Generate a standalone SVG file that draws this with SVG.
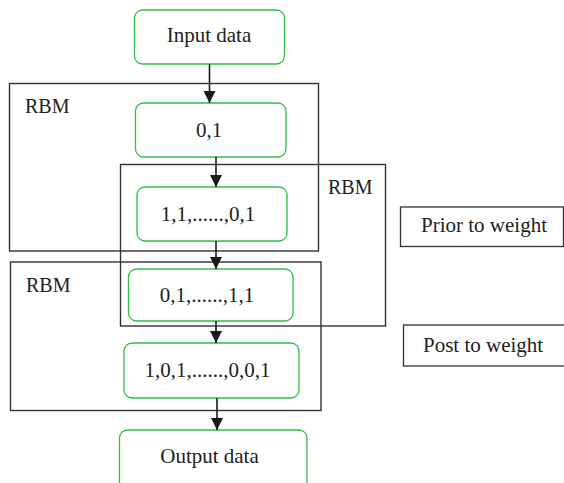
<svg xmlns="http://www.w3.org/2000/svg" width="564" height="483" viewBox="0 0 564 483">
<style>
.node{fill:#fff;stroke:#2fbf44;stroke-width:1.3}
.frame{fill:none;stroke:#333;stroke-width:1.4}
.box{fill:#fff;stroke:#333;stroke-width:1.3}
text{font-family:"Liberation Serif","Times New Roman",serif;font-size:21px;fill:#222}
.r{font-size:20px}
.c{text-anchor:middle}
.conn{stroke:#1a1a1a;stroke-width:1.6;fill:none}
</style>
<defs>
<marker id="ah" markerUnits="userSpaceOnUse" markerWidth="12" markerHeight="14" refX="12" refY="6" orient="auto">
<path d="M0,0 L12,6 L0,12 Z" fill="#1a1a1a"/>
</marker>
</defs>
<rect width="564" height="483" fill="#fff"/>
<g id="rbm1"><rect class="frame" x="9.5" y="83.5" width="309" height="167.5"/><text class="r" x="25" y="113">RBM</text></g>
<g id="rbm2"><rect class="frame" x="120.5" y="164.5" width="265" height="161.5"/><text class="r" x="328" y="194">RBM</text></g>
<g id="rbm3"><rect class="frame" x="10.5" y="262" width="310.5" height="148.5"/><text class="r" x="26" y="292">RBM</text></g>
<g id="input"><rect class="node" x="134.5" y="10" width="150" height="54" rx="8"/><text class="c" x="209" y="42">Input data</text></g>
<g id="n1"><rect class="node" x="135.5" y="103" width="150.5" height="54" rx="8"/><text class="c" x="209" y="137">0,1</text></g>
<g id="n2"><rect class="node" x="137" y="187" width="150" height="54" rx="8"/><text class="c" x="208" y="221">1,1,......,0,1</text></g>
<g id="n3"><rect class="node" x="128.5" y="269" width="164.5" height="52" rx="8"/><text class="c" x="207" y="302">0,1,......,1,1</text></g>
<g id="n4"><rect class="node" x="124" y="343" width="175" height="55" rx="8"/><text class="c" x="207.5" y="377">1,0,1,......,0,0,1</text></g>
<g id="output"><rect class="node" x="119.5" y="430" width="187.5" height="70" rx="8"/><text class="c" x="209.5" y="463">Output data</text></g>
<g id="prior"><rect class="box" x="400.5" y="207" width="163" height="39.5"/><text x="421" y="232">Prior to weight</text></g>
<g id="post"><rect class="box" x="403.5" y="325" width="162" height="41"/><text x="423" y="352">Post to weight</text></g>
<g id="connectors">
<line class="conn" x1="209.5" y1="64" x2="209.5" y2="103" marker-end="url(#ah)"/>
<line class="conn" x1="216" y1="157" x2="216" y2="187" marker-end="url(#ah)"/>
<line class="conn" x1="216" y1="241" x2="216" y2="269" marker-end="url(#ah)"/>
<line class="conn" x1="216" y1="321" x2="216" y2="343" marker-end="url(#ah)"/>
<line class="conn" x1="217" y1="398" x2="217" y2="430" marker-end="url(#ah)"/>
</g>
</svg>
